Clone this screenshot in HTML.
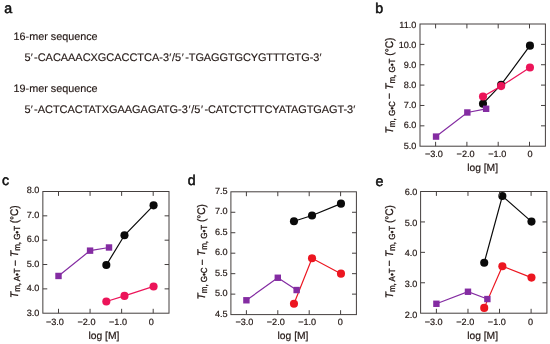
<!DOCTYPE html>
<html><head><meta charset="utf-8"><title>figure</title>
<style>
html,body{margin:0;padding:0;background:#fff;}
svg{display:block;text-rendering:geometricPrecision;will-change:transform;opacity:0.999;font-family:"Liberation Sans",sans-serif;}
.pl{font-size:14.2px;fill:#111;stroke:#111;stroke-width:0.55px;}
.sq{font-size:10.8px;fill:#231815;stroke:#231815;stroke-width:0.15px;}
.sq2{font-size:10.95px;fill:#231815;stroke:#231815;stroke-width:0.15px;}
.tk{font-size:9.1px;fill:#231815;stroke:#231815;stroke-width:0.2px;}
.al{font-size:10.3px;fill:#231815;stroke:#231815;stroke-width:0.2px;}
.yl{font-size:11px;fill:#231815;stroke:#231815;stroke-width:0.3px;}
.sub{font-size:8.8px;}
</style></head><body>
<svg width="550" height="344" viewBox="0 0 550 344">
<rect width="550" height="344" fill="#fff"/>
<text x="4.3" y="13.1" class="pl">a</text>
<text x="13.6" y="40.2" class="sq">16-mer sequence</text>
<text x="24.4" y="61.0" class="sq2">5<tspan dx="0.3">′</tspan><tspan dx="1.2" letter-spacing="0">-CACAAACXGCACCTCA-3</tspan><tspan dx="0.3">′</tspan><tspan dx="0.7" letter-spacing="0">/5</tspan><tspan dx="0.6">′</tspan><tspan dx="1.4" letter-spacing="-0.08">-TGAGGTGCYGTTTGTG-3</tspan><tspan dx="0.3">′</tspan></text>
<text x="13.6" y="92.3" class="sq">19-mer sequence</text>
<text x="24.4" y="113.4" class="sq2">5<tspan dx="0.3">′</tspan><tspan dx="1.2" letter-spacing="0">-ACTCACTATXGAAGAGATG-3</tspan><tspan dx="0.7">′</tspan><tspan dx="0.7" letter-spacing="0">/5</tspan><tspan dx="0.6">′</tspan><tspan dx="1.4" letter-spacing="-0.06">-CATCTCTTCYATAGTGAGT-3</tspan><tspan dx="0.3">′</tspan></text>
<text x="375.3" y="13.3" class="pl">b</text>
<polyline points="483.00,103.69 501.15,84.69 529.95,45.66" fill="none" stroke="#0a0a0a" stroke-width="1.2"/>
<polyline points="483.00,96.54 501.15,86.12 529.95,67.53" fill="none" stroke="#ec1459" stroke-width="1.2"/>
<polyline points="436.05,136.59 467.35,112.48 486.13,108.80" fill="none" stroke="#842ca2" stroke-width="1.2"/>
<circle cx="483.00" cy="103.69" r="4.05" fill="#0a0a0a"/>
<circle cx="501.15" cy="84.69" r="4.05" fill="#0a0a0a"/>
<circle cx="529.95" cy="45.66" r="4.05" fill="#0a0a0a"/>
<circle cx="483.00" cy="96.54" r="4.05" fill="#ec1459"/>
<circle cx="501.15" cy="86.12" r="4.05" fill="#ec1459"/>
<circle cx="529.95" cy="67.53" r="4.05" fill="#ec1459"/>
<rect x="432.85" y="133.39" width="6.4" height="6.4" fill="#842ca2"/>
<rect x="464.15" y="109.28" width="6.4" height="6.4" fill="#842ca2"/>
<rect x="482.93" y="105.60" width="6.4" height="6.4" fill="#842ca2"/>
<rect x="420.0" y="24.0" width="125.40" height="122.20" fill="none" stroke="#443f3e" stroke-width="1.0"/>
<path d="M435.60,146.2 v-4.4 M435.60,24.0 v4.4" stroke="#443f3e" stroke-width="1.0" fill="none"/>
<text x="433.90" y="157.0" class="tk" text-anchor="middle">−3.0</text>
<path d="M466.90,146.2 v-4.4 M466.90,24.0 v4.4" stroke="#443f3e" stroke-width="1.0" fill="none"/>
<text x="465.60" y="157.0" class="tk" text-anchor="middle">−2.0</text>
<path d="M498.20,146.2 v-4.4 M498.20,24.0 v4.4" stroke="#443f3e" stroke-width="1.0" fill="none"/>
<text x="497.30" y="157.0" class="tk" text-anchor="middle">−1.0</text>
<path d="M529.50,146.2 v-4.4 M529.50,24.0 v4.4" stroke="#443f3e" stroke-width="1.0" fill="none"/>
<text x="530.00" y="157.0" class="tk" text-anchor="middle">0</text>
<text x="416.4" y="148.52" class="tk" text-anchor="end">5.0</text>
<path d="M420.0,125.83 h4.4 M545.4,125.83 h-4.4" stroke="#443f3e" stroke-width="1.0" fill="none"/>
<text x="416.4" y="128.35" class="tk" text-anchor="end">6.0</text>
<path d="M420.0,105.47 h4.4 M545.4,105.47 h-4.4" stroke="#443f3e" stroke-width="1.0" fill="none"/>
<text x="416.4" y="108.18" class="tk" text-anchor="end">7.0</text>
<path d="M420.0,85.10 h4.4 M545.4,85.10 h-4.4" stroke="#443f3e" stroke-width="1.0" fill="none"/>
<text x="416.4" y="88.01" class="tk" text-anchor="end">8.0</text>
<path d="M420.0,64.73 h4.4 M545.4,64.73 h-4.4" stroke="#443f3e" stroke-width="1.0" fill="none"/>
<text x="416.4" y="67.84" class="tk" text-anchor="end">9.0</text>
<path d="M420.0,44.37 h4.4 M545.4,44.37 h-4.4" stroke="#443f3e" stroke-width="1.0" fill="none"/>
<text x="416.4" y="47.67" class="tk" text-anchor="end">10.0</text>
<text x="416.4" y="27.50" class="tk" text-anchor="end">11.0</text>
<text x="482.6" y="170.6" class="al" text-anchor="middle">log [M]</text>
<text transform="translate(393.2,133.4) rotate(-90) scale(0.914,1)" class="yl" textLength="104.70" lengthAdjust="spacing"><tspan font-style="italic">T</tspan><tspan class="sub" dy="1.6">m, G•C</tspan><tspan dy="-1.4000000000000001" dx="-0.6"> −</tspan><tspan dy="-0.2" dx="0.6"> </tspan><tspan font-style="italic">T</tspan><tspan class="sub" dy="1.6">m, G•T</tspan><tspan dy="-1.6"> (°C)</tspan></text>
<text x="2.0" y="185.1" class="pl">c</text>
<polyline points="106.32,265.01 124.47,235.31 153.58,205.37" fill="none" stroke="#0a0a0a" stroke-width="1.2"/>
<polyline points="106.32,301.52 124.47,295.92 153.58,286.43" fill="none" stroke="#ec1459" stroke-width="1.2"/>
<polyline points="58.50,275.96 90.07,250.65 109.01,247.48" fill="none" stroke="#842ca2" stroke-width="1.2"/>
<circle cx="106.32" cy="265.01" r="4.05" fill="#0a0a0a"/>
<circle cx="124.47" cy="235.31" r="4.05" fill="#0a0a0a"/>
<circle cx="153.58" cy="205.37" r="4.05" fill="#0a0a0a"/>
<circle cx="106.32" cy="301.52" r="4.05" fill="#ec1459"/>
<circle cx="124.47" cy="295.92" r="4.05" fill="#ec1459"/>
<circle cx="153.58" cy="286.43" r="4.05" fill="#ec1459"/>
<rect x="55.30" y="272.76" width="6.4" height="6.4" fill="#842ca2"/>
<rect x="86.87" y="247.45" width="6.4" height="6.4" fill="#842ca2"/>
<rect x="105.81" y="244.28" width="6.4" height="6.4" fill="#842ca2"/>
<rect x="42.85" y="191.5" width="126.15" height="121.70" fill="none" stroke="#443f3e" stroke-width="1.0"/>
<path d="M58.50,313.2 v-4.4 M58.50,191.5 v4.4" stroke="#443f3e" stroke-width="1.0" fill="none"/>
<text x="54.90" y="324.7" class="tk" text-anchor="middle">−3.0</text>
<path d="M90.07,313.2 v-4.4 M90.07,191.5 v4.4" stroke="#443f3e" stroke-width="1.0" fill="none"/>
<text x="86.47" y="324.7" class="tk" text-anchor="middle">−2.0</text>
<path d="M121.63,313.2 v-4.4 M121.63,191.5 v4.4" stroke="#443f3e" stroke-width="1.0" fill="none"/>
<text x="118.03" y="324.7" class="tk" text-anchor="middle">−1.0</text>
<path d="M153.20,313.2 v-4.4 M153.20,191.5 v4.4" stroke="#443f3e" stroke-width="1.0" fill="none"/>
<text x="151.30" y="324.7" class="tk" text-anchor="middle">0</text>
<text x="39.3" y="316.00" class="tk" text-anchor="end">3.0</text>
<path d="M42.85,288.86 h4.4 M169.0,288.86 h-4.4" stroke="#443f3e" stroke-width="1.0" fill="none"/>
<text x="39.3" y="291.42" class="tk" text-anchor="end">4.0</text>
<path d="M42.85,264.52 h4.4 M169.0,264.52 h-4.4" stroke="#443f3e" stroke-width="1.0" fill="none"/>
<text x="39.3" y="266.84" class="tk" text-anchor="end">5.0</text>
<path d="M42.85,240.18 h4.4 M169.0,240.18 h-4.4" stroke="#443f3e" stroke-width="1.0" fill="none"/>
<text x="39.3" y="242.26" class="tk" text-anchor="end">6.0</text>
<path d="M42.85,215.84 h4.4 M169.0,215.84 h-4.4" stroke="#443f3e" stroke-width="1.0" fill="none"/>
<text x="39.3" y="217.68" class="tk" text-anchor="end">7.0</text>
<text x="39.3" y="193.10" class="tk" text-anchor="end">8.0</text>
<text x="103.9" y="339.1" class="al" text-anchor="middle">log [M]</text>
<text transform="translate(18.4,297.9) rotate(-90) scale(0.914,1)" class="yl" textLength="101.20" lengthAdjust="spacing"><tspan font-style="italic">T</tspan><tspan class="sub" dy="1.6">m, A•T</tspan><tspan dy="-1.4000000000000001" dx="-0.6"> −</tspan><tspan dy="-0.2" dx="0.6"> </tspan><tspan font-style="italic">T</tspan><tspan class="sub" dy="1.6">m, G•T</tspan><tspan dy="-1.6"> (°C)</tspan></text>
<text x="187.8" y="184.6" class="pl">d</text>
<polyline points="293.97,221.27 312.03,215.54 340.98,203.67" fill="none" stroke="#0a0a0a" stroke-width="1.2"/>
<polyline points="293.97,303.75 312.03,258.32 340.98,273.67" fill="none" stroke="#ec1620" stroke-width="1.2"/>
<polyline points="246.40,300.27 277.80,277.76 296.64,290.04" fill="none" stroke="#842ca2" stroke-width="1.2"/>
<circle cx="293.97" cy="221.27" r="4.05" fill="#0a0a0a"/>
<circle cx="312.03" cy="215.54" r="4.05" fill="#0a0a0a"/>
<circle cx="340.98" cy="203.67" r="4.05" fill="#0a0a0a"/>
<circle cx="293.97" cy="303.75" r="4.05" fill="#ec1620"/>
<circle cx="312.03" cy="258.32" r="4.05" fill="#ec1620"/>
<circle cx="340.98" cy="273.67" r="4.05" fill="#ec1620"/>
<rect x="243.20" y="297.07" width="6.4" height="6.4" fill="#842ca2"/>
<rect x="274.60" y="274.56" width="6.4" height="6.4" fill="#842ca2"/>
<rect x="293.44" y="286.84" width="6.4" height="6.4" fill="#842ca2"/>
<rect x="230.9" y="191.8" width="125.50" height="122.80" fill="none" stroke="#443f3e" stroke-width="1.0"/>
<path d="M246.40,314.6 v-4.4 M246.40,191.8 v4.4" stroke="#443f3e" stroke-width="1.0" fill="none"/>
<text x="244.40" y="324.8" class="tk" text-anchor="middle">−3.0</text>
<path d="M277.80,314.6 v-4.4 M277.80,191.8 v4.4" stroke="#443f3e" stroke-width="1.0" fill="none"/>
<text x="275.80" y="324.8" class="tk" text-anchor="middle">−2.0</text>
<path d="M309.20,314.6 v-4.4 M309.20,191.8 v4.4" stroke="#443f3e" stroke-width="1.0" fill="none"/>
<text x="307.20" y="324.8" class="tk" text-anchor="middle">−1.0</text>
<path d="M340.60,314.6 v-4.4 M340.60,191.8 v4.4" stroke="#443f3e" stroke-width="1.0" fill="none"/>
<text x="340.20" y="324.8" class="tk" text-anchor="middle">0</text>
<text x="227.7" y="316.52" class="tk" text-anchor="end">4.5</text>
<path d="M230.9,294.13 h4.4 M356.4,294.13 h-4.4" stroke="#443f3e" stroke-width="1.0" fill="none"/>
<text x="227.7" y="296.10" class="tk" text-anchor="end">5.0</text>
<path d="M230.9,273.67 h4.4 M356.4,273.67 h-4.4" stroke="#443f3e" stroke-width="1.0" fill="none"/>
<text x="227.7" y="275.68" class="tk" text-anchor="end">5.5</text>
<path d="M230.9,253.20 h4.4 M356.4,253.20 h-4.4" stroke="#443f3e" stroke-width="1.0" fill="none"/>
<text x="227.7" y="255.26" class="tk" text-anchor="end">6.0</text>
<path d="M230.9,232.73 h4.4 M356.4,232.73 h-4.4" stroke="#443f3e" stroke-width="1.0" fill="none"/>
<text x="227.7" y="234.84" class="tk" text-anchor="end">6.5</text>
<path d="M230.9,212.27 h4.4 M356.4,212.27 h-4.4" stroke="#443f3e" stroke-width="1.0" fill="none"/>
<text x="227.7" y="214.42" class="tk" text-anchor="end">7.0</text>
<text x="227.7" y="194.00" class="tk" text-anchor="end">7.5</text>
<text x="293.0" y="338.6" class="al" text-anchor="middle">log [M]</text>
<text transform="translate(205.3,299.4) rotate(-90) scale(0.914,1)" class="yl" textLength="104.27" lengthAdjust="spacing"><tspan font-style="italic">T</tspan><tspan class="sub" dy="1.6">m, G•C</tspan><tspan dy="-1.4000000000000001" dx="-0.6"> −</tspan><tspan dy="-0.2" dx="0.6"> </tspan><tspan font-style="italic">T</tspan><tspan class="sub" dy="1.6">m, G•T</tspan><tspan dy="-1.6"> (°C)</tspan></text>
<text x="375.5" y="185.5" class="pl">e</text>
<polyline points="484.22,262.69 502.37,196.06 531.48,221.62" fill="none" stroke="#0a0a0a" stroke-width="1.2"/>
<polyline points="484.22,307.88 502.37,266.19 531.48,277.60" fill="none" stroke="#ec1620" stroke-width="1.2"/>
<polyline points="436.40,303.77 467.97,291.75 487.38,299.05" fill="none" stroke="#842ca2" stroke-width="1.2"/>
<circle cx="484.22" cy="262.69" r="4.05" fill="#0a0a0a"/>
<circle cx="502.37" cy="196.06" r="4.05" fill="#0a0a0a"/>
<circle cx="531.48" cy="221.62" r="4.05" fill="#0a0a0a"/>
<circle cx="484.22" cy="307.88" r="4.05" fill="#ec1620"/>
<circle cx="502.37" cy="266.19" r="4.05" fill="#ec1620"/>
<circle cx="531.48" cy="277.60" r="4.05" fill="#ec1620"/>
<rect x="433.20" y="300.57" width="6.4" height="6.4" fill="#842ca2"/>
<rect x="464.77" y="288.55" width="6.4" height="6.4" fill="#842ca2"/>
<rect x="484.18" y="295.85" width="6.4" height="6.4" fill="#842ca2"/>
<rect x="420.6" y="191.5" width="126.30" height="121.70" fill="none" stroke="#443f3e" stroke-width="1.0"/>
<path d="M436.40,313.2 v-4.4 M436.40,191.5 v4.4" stroke="#443f3e" stroke-width="1.0" fill="none"/>
<text x="433.70" y="324.8" class="tk" text-anchor="middle">−3.0</text>
<path d="M467.97,313.2 v-4.4 M467.97,191.5 v4.4" stroke="#443f3e" stroke-width="1.0" fill="none"/>
<text x="465.27" y="324.8" class="tk" text-anchor="middle">−2.0</text>
<path d="M499.53,313.2 v-4.4 M499.53,191.5 v4.4" stroke="#443f3e" stroke-width="1.0" fill="none"/>
<text x="496.83" y="324.8" class="tk" text-anchor="middle">−1.0</text>
<path d="M531.10,313.2 v-4.4 M531.10,191.5 v4.4" stroke="#443f3e" stroke-width="1.0" fill="none"/>
<text x="530.50" y="324.8" class="tk" text-anchor="middle">0</text>
<text x="417.4" y="318.00" class="tk" text-anchor="end">2.0</text>
<path d="M420.6,282.77 h4.4 M546.9,282.77 h-4.4" stroke="#443f3e" stroke-width="1.0" fill="none"/>
<text x="417.4" y="287.20" class="tk" text-anchor="end">3.0</text>
<path d="M420.6,252.35 h4.4 M546.9,252.35 h-4.4" stroke="#443f3e" stroke-width="1.0" fill="none"/>
<text x="417.4" y="256.40" class="tk" text-anchor="end">4.0</text>
<path d="M420.6,221.93 h4.4 M546.9,221.93 h-4.4" stroke="#443f3e" stroke-width="1.0" fill="none"/>
<text x="417.4" y="225.60" class="tk" text-anchor="end">5.0</text>
<text x="417.4" y="194.80" class="tk" text-anchor="end">6.0</text>
<text x="482.6" y="338.9" class="al" text-anchor="middle">log [M]</text>
<text transform="translate(393.2,298.2) rotate(-90) scale(0.914,1)" class="yl" textLength="101.75" lengthAdjust="spacing"><tspan font-style="italic">T</tspan><tspan class="sub" dy="1.6">m, A•T</tspan><tspan dy="-1.4000000000000001" dx="-0.6"> −</tspan><tspan dy="-0.2" dx="0.6"> </tspan><tspan font-style="italic">T</tspan><tspan class="sub" dy="1.6">m, G•T</tspan><tspan dy="-1.6"> (°C)</tspan></text>
</svg>
</body></html>
